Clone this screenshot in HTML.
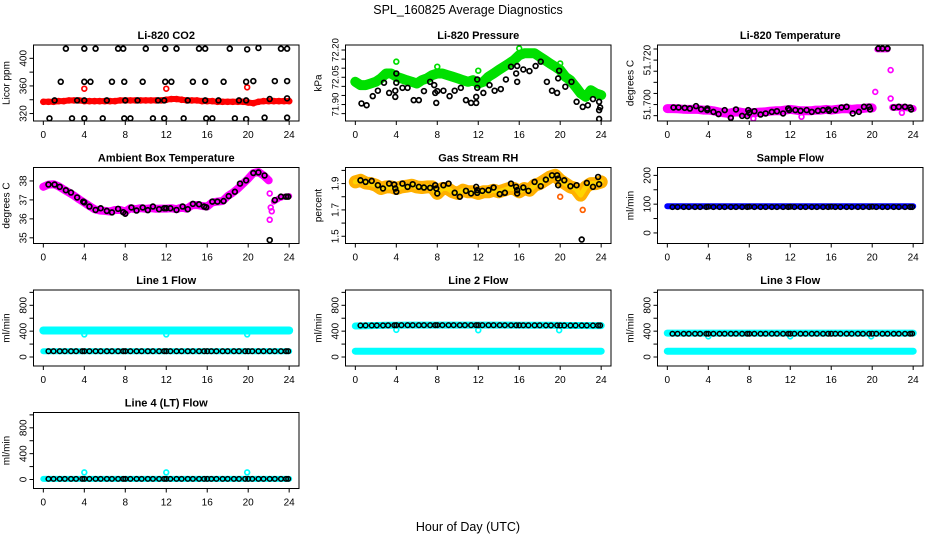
<!DOCTYPE html>
<html><head><meta charset="utf-8"><style>
html,body{margin:0;padding:0;background:#fff;}
svg{display:block;font-family:"Liberation Sans",sans-serif;}
</style></head><body>
<svg id="chart" width="936" height="540" viewBox="0 0 936 540" xmlns="http://www.w3.org/2000/svg">
<text x="468" y="14" text-anchor="middle" font-size="12.5">SPL_160825  Average Diagnostics</text>
<text x="468" y="531" text-anchor="middle" font-size="12.5">Hour of Day (UTC)</text>
</svg>
<script>
const xTicks=[0,4,8,12,16,20,24];
const tHalf=[0,0.5,1,1.5,2,2.5,3,3.5,4,4.5,5,5.5,6,6.5,7,7.5,8,8.5,9,9.5,10,10.5,11,11.5,12,12.5,13,13.5,14,14.5,15,15.5,16,16.5,17,17.5,18,18.5,19,19.5,20,20.5,21,21.5,22,22.5,23,23.5,24];
const tHour=[0,1,2,3,4,5,6,7,8,9,10,11,12,13,14,15,16,17,18,19,20,21,22,23,24];
const tBlk=[0.5,1.0,1.6,2.1,2.7,3.2,3.8,4.0,4.5,5.1,5.6,6.2,6.7,7.3,7.8,8.0,8.5,9.1,9.6,10.2,10.7,11.3,11.8,12.0,12.4,13.0,13.5,14.1,14.6,15.2,15.7,16.0,16.4,16.9,17.5,18.0,18.6,19.1,19.7,20.0,20.4,21.0,21.5,22.1,22.6,23.2,23.7,23.9];
const tSpikes=[4.0,12.0,19.9];

// CO2
const co2Band=[337,337,337,338,338,339,339,339,338,338,338,338,338,338,338,339,339,339,339,339,339,339,339,339,340,341,341,340,339,339,339,338,338,338,337,337,337,337,337,337,336,335,337,338,338,338,338,338,338];
const co2Spike=[356,356,358];
const co2BlkT=[2.2,4.0,5.1,7.3,7.8,10.0,11.9,13.0,15.2,15.8,18.2,19.9,21.0,23.2,23.8, 1.7,4.0,4.6,6.7,7.9,9.7,11.9,12.5,14.6,15.8,17.6,19.8,20.5,22.6,23.8, 0.6,2.8,4.0,5.8,7.9,8.5,10.7,11.8,13.7,15.9,16.5,18.7,19.8,21.6,23.8, 1.1,3.3,4.0,6.2,8.0,9.2,11.2,11.8,14.1,15.8,17.1,19.1,19.8,22.1,23.8];
const co2BlkV=[414,414,414,414,414,414,414,414,414,414,414,413,415,414,414, 366,366,366,366,366,366,366,366,366,366,366,366,367,367,367, 313,313,313,313,313,313,313,313,313,313,313,313,312,314,314, 339,339,339,339,339,339,339,339,339,339,339,339,339,341,342];

// Pressure
const presBand=[72.025,72.007,72.007,72.016,72.025,72.044,72.071,72.071,72.053,72.044,72.034,72.025,72.016,72.034,72.044,72.062,72.071,72.071,72.062,72.053,72.044,72.034,72.025,72.034,72.016,72.025,72.053,72.071,72.090,72.108,72.126,72.145,72.172,72.182,72.182,72.182,72.163,72.145,72.126,72.108,72.090,72.053,72.034,71.998,71.961,71.942,71.979,71.961,71.952];
const presSpike=[72.136,72.108,72.086,72.209,72.126];
const presSpikeT=[4.0,8.0,12.0,16.0,20.0];
const presBlkT=[0.6,1.1,1.7,2.2,2.8,3.3,3.9,3.9,4.0,4.0,4.6,5.1,5.7,6.2,6.7,7.3,7.7,7.8,7.9,8.0,8.6,9.2,9.7,10.3,10.8,11.3,11.8,11.8,11.9,11.9,12.5,13.1,13.6,14.2,14.7,15.2,15.7,15.8,15.8,16.4,17.0,17.6,18.1,18.7,19.2,19.7,19.8,19.9,20.5,21.1,21.6,22.2,22.7,23.2,23.8,23.8,23.9,23.8];
const presBlkV=[71.906,71.896,71.946,71.976,72.020,71.964,71.942,71.976,72.071,72.020,71.992,71.992,71.924,71.924,71.974,72.025,72.007,71.964,71.909,71.974,71.976,71.946,71.976,71.992,71.924,71.909,71.942,71.909,72.038,71.992,71.964,72.007,71.976,71.985,72.038,72.108,72.071,72.112,72.025,72.093,72.084,72.112,72.136,72.025,71.976,71.964,72.044,72.086,71.998,72.025,71.915,71.887,71.896,71.930,71.915,71.869,71.884,71.821];

// Li-820 temperature
const tempBand=[51.6982,51.6982,51.6981,51.6979,51.6978,51.6978,51.6978,51.6975,51.6975,51.6972,51.6967,51.6963,51.6960,51.6966,51.6967,51.6963,51.6963,51.6964,51.6966,51.6967,51.6970,51.6972,51.6972,51.6975,51.6978,51.6975,51.6972,51.6972,51.6972,51.6975,51.6975,51.6978,51.6975,51.6978,51.6981,51.6982,51.6978,51.6981,51.6982,51.6985,51.6985,51.7248,51.7248,51.7248,51.6987,51.6987,51.6987,51.6985,51.6982];
const tempOutT=[20.3,21.8,21.8,8.4,6.2,13.1,22.9];
const tempOutV=[51.7057,51.7155,51.7027,51.6937,51.6945,51.6945,51.6963];
const tempBlkT=[0.6,1.1,1.7,2.2,2.8,3.3,3.9,3.9,4.5,5.0,5.6,6.2,6.7,7.3,7.8,7.9,8.0,8.5,9.1,9.6,10.2,10.7,11.3,11.8,11.9,12.5,13.0,13.6,14.1,14.7,15.2,15.7,15.8,16.4,17.0,17.5,18.1,18.7,19.2,19.7,19.8,20.6,21.0,21.5,22.1,22.6,23.2,23.7,23.8];
const tempBlkV=[51.6987,51.6987,51.6985,51.6982,51.6993,51.6979,51.6975,51.6982,51.6967,51.6957,51.6975,51.6940,51.6978,51.6949,51.6948,51.6975,51.6963,51.6970,51.6955,51.6960,51.6967,51.6970,51.6960,51.6982,51.6975,51.6975,51.6972,51.6975,51.6967,51.6972,51.6975,51.6978,51.6972,51.6975,51.6987,51.6990,51.6960,51.6967,51.6990,51.6990,51.6978,51.7252,51.7252,51.7252,51.6987,51.6990,51.6990,51.6987,51.6978];

// Ambient box temperature
const ambBand=[37.69,37.81,37.83,37.72,37.55,37.39,37.22,37.03,36.86,36.68,36.51,36.44,36.42,36.39,36.47,36.47,36.39,36.56,36.51,36.56,36.53,36.56,36.53,36.54,36.54,36.56,36.51,36.60,36.53,36.72,36.73,36.68,36.65,36.87,36.91,36.94,37.20,37.38,37.60,37.86,38.12,38.42,38.47,38.29,38.03,36.91,37.08,37.17,37.20];
const ambOutT=[22.1,22.1,22.2,22.3];
const ambOutV=[37.34,35.95,36.60,36.40];
const ambBlkT=[0.5,1.1,1.6,2.2,2.7,3.3,3.9,4.0,4.5,5.1,5.6,6.2,6.7,7.3,7.8,8.0,8.6,9.1,9.7,10.2,10.7,11.3,11.8,12.0,12.4,13.0,13.6,14.1,14.6,15.2,15.7,15.9,16.5,17.0,17.6,18.1,18.7,19.2,19.8,20.5,21.0,21.6,22.1,22.6,23.2,23.7,23.9];
const ambBlkV=[37.81,37.81,37.69,37.51,37.39,37.13,36.91,36.87,36.65,36.47,36.56,36.42,36.34,36.53,36.35,36.27,36.60,36.44,36.60,36.46,36.65,36.51,36.56,36.56,36.56,36.47,36.65,36.51,36.79,36.77,36.65,36.61,36.91,36.91,36.94,37.20,37.43,37.86,38.03,38.42,38.45,38.29,34.88,36.99,37.17,37.17,37.17];

// Gas stream RH
const rhBand=[1.9125,1.925,1.905,1.9,1.8875,1.8625,1.875,1.875,1.8625,1.875,1.88,1.8875,1.875,1.87,1.875,1.875,1.825,1.8625,1.8625,1.8375,1.825,1.85,1.8375,1.8375,1.825,1.8375,1.8375,1.85,1.8375,1.85,1.8625,1.8625,1.8375,1.8625,1.85,1.8875,1.9,1.925,1.95,1.9625,1.925,1.9,1.875,1.8625,1.8125,1.875,1.9,1.9,1.9125];
const rhOutT=[22.2,20.0];
const rhOutV=[1.70,1.80];
const rhBlkT=[0.5,1.0,1.6,2.2,2.7,3.3,3.8,3.9,4.0,4.6,5.1,5.6,6.2,6.7,7.3,7.8,7.9,8.0,8.6,9.1,9.7,10.2,10.8,11.3,11.8,11.9,11.9,12.4,13.0,13.5,14.1,14.6,15.2,15.7,15.8,15.8,16.4,16.9,17.5,18.1,18.6,19.2,19.7,19.8,19.8,20.4,21.0,21.6,22.1,22.6,23.2,23.7,23.8];
const rhBlkV=[1.925,1.9125,1.92,1.8875,1.8625,1.9,1.8925,1.8625,1.8375,1.9,1.875,1.895,1.875,1.87,1.8675,1.8875,1.8625,1.825,1.8875,1.9,1.83,1.80,1.845,1.825,1.875,1.85,1.83,1.845,1.85,1.87,1.82,1.83,1.9,1.875,1.85,1.825,1.87,1.845,1.9125,1.88,1.93,1.9625,1.9625,1.9375,1.8875,1.925,1.88,1.8875,1.475,1.905,1.875,1.95,1.895];

// Sample flow
const sfBand=[93,93,93,93,93,93,93,93,93,93,93,93,93,93,93,93,93,93,93,93,93,93,93,93,93];
const sfBlk=[90,90,90,90,90,90,90,91,90,90,90,90,90,90,90,91,90,90,90,90,90,90,90,91,90,90,90,90,90,90,90,91,90,90,90,90,90,90,90,91,90,90,90,90,90,90,90,90];

// Line flows
const l1High=[410,410,410,410,410,410,410,410,410,410,410,410,410,410,410,410,410,410,410,410,410,410,410,410,410];
const l1Low=[88,88,88,88,88,88,88,88,88,88,88,88,88,88,88,88,88,88,88,88,88,88,88,88,88];
const l1Spike=[350,350,350];
const l1Blk=[90,90,90,90,90,90,90,90,90,90,90,90,90,90,90,90,90,90,90,90,90,90,90,90,90,90,90,90,90,90,90,90,90,90,90,90,90,90,90,90,90,90,90,90,90,90,90,90];
const l2High=[480,485,488,490,492,493,493,494,494,493,493,493,494,494,494,493,492,491,490,490,489,488,487,486,486];
const l2Low=[90,90,90,90,90,90,90,90,90,90,90,90,90,90,90,90,90,90,90,90,90,90,90,90,90];
const l2Spike=[420,415,415];
const l2Blk=[488,488,488,489,489,490,491,492,492,492,492,492,492,492,492,493,493,493,493,492,492,492,492,492,492,492,492,492,491,491,491,491,491,490,490,490,489,489,489,488,488,488,488,488,488,488,488,488];
const l3High=[370,370,370,370,370,370,370,370,370,370,370,370,370,370,370,370,370,370,370,370,370,370,370,370,370];
const l3Low=[90,90,90,90,90,90,90,90,90,90,90,90,90,90,90,90,90,90,90,90,90,90,90,90,90];
const l3Spike=[320,320,320];
const l3Blk=[360,360,360,360,360,360,360,360,360,360,360,360,360,360,360,360,360,360,360,360,360,360,360,360,360,360,360,360,360,360,360,360,360,360,360,360,360,360,360,360,360,360,360,360,360,360,360,362];
const l4Band=[10,10,10,10,10,10,10,10,10,10,10,10,10,10,10,10,10,10,10,10,10,10,10,10,10];
const l4Spike=[110,110,110];
const l4Blk=[10,10,10,10,10,10,10,10,10,10,10,10,10,10,10,10,10,10,10,10,10,10,10,10,10,10,10,10,10,10,10,10,10,10,10,10,10,10,10,10,10,10,10,10,10,10,10,10];

const NS="http://www.w3.org/2000/svg";
const svg=document.getElementById('chart');
function el(parent,tag,attrs,txt){const e=document.createElementNS(NS,tag);for(const k in attrs)e.setAttribute(k,attrs[k]);if(txt!==undefined)e.textContent=txt;parent.appendChild(e);return e;}

function makePanel(c,r,y0,y1,name,title,ylab,yTicks,yLabels,lfs){
  const L=33.5+312*c,R=299+312*c,T=45+122.5*r,B=T+76;
  const g=el(svg,'g',{});
  
  
  const p={g,L,R,T,B,
    x:t=>L+(t+0.96)/25.92*(R-L),
    y:v=>B-(v-y0)/(y1-y0)*(B-T)};
  const clip=el(g,'clipPath',{id:'clip-'+name});
  el(clip,'rect',{x:L,y:T,width:R-L,height:B-T});
  p.plot=el(g,'g',{'clip-path':'url(#clip-'+name+')'});
  
  
  const fr=el(g,'rect',{x:L,y:T,width:R-L,height:B-T,fill:'none',stroke:'#000','stroke-width':1});
  
  
  const tt=el(g,'text',{x:(L+R)/2,y:T-6,'text-anchor':'middle','font-size':11,'font-weight':'bold'},title);
  
  
  const yl=el(g,'text',{x:0,y:0,'text-anchor':'middle','font-size':10,transform:'translate('+(L-24)+','+((T+B)/2)+') rotate(-90)'},ylab);
  
  
  xTicks.forEach(t=>{
    const X=p.x(t);
    el(g,'line',{x1:X,x2:X,y1:B,y2:B+4,stroke:'#000'});
    const lb=el(g,'text',{x:X,y:B+17,'text-anchor':'middle','font-size':10},String(t));
    
    
  });
  yTicks.forEach(v=>{const Y=p.y(v);el(g,'line',{x1:L-4,x2:L,y1:Y,y2:Y,stroke:'#000'});});
  yLabels.forEach(v=>{
    const Y=p.y(Number(v));
    const lb=el(g,'text',{x:0,y:0,'text-anchor':'middle','font-size':lfs||10,transform:'translate('+(L-7)+','+Y+') rotate(-90)'},String(v));
    
    
  });
  return p;
}
function band(p,ts,vs,color,w,name){
  const pts=ts.map((t,i)=>p.x(t).toFixed(1)+','+p.y(vs[i]).toFixed(1)).join(' ');
  const pl=el(p.plot,'polyline',{points:pts,fill:'none',stroke:color,'stroke-width':w,'stroke-linejoin':'round','stroke-linecap':'round'});
  
  
}
function pts(p,ts,vs,color,name,rad,sw){
  const g=el(p.plot,'g',{});
  
  
  ts.forEach((t,i)=>{
    const c=el(g,'circle',{cx:p.x(t),cy:p.y(vs[i]),r:rad||2.4,fill:'none',stroke:color,'stroke-width':sw||1.7});
    
    
  });
}

// Panel 1 CO2
let p=makePanel(0,0,309.2,419.3,'co2','Li-820 CO2','Licor ppm',[320,340,360,380,400],[320,360,400]);
band(p,tHalf,co2Band,'#ff0000',6,'co2-band');
pts(p,tHalf,co2Band,'#ff0000','co2-band-points',2.6,1.5);
pts(p,tSpikes,co2Spike,'#ff0000','co2-red-outliers');
pts(p,co2BlkT,co2BlkV,'#000','co2-black-points');

// Panel 2 Pressure
p=makePanel(1,0,71.8094,72.2276,'pressure','Li-820 Pressure','kPa',[71.85,71.90,71.95,72.00,72.05,72.10,72.15,72.20],['71.90','72.05','72.20'],9.5);
band(p,tHalf,presBand,'#00e000',10,'pressure-band');
pts(p,presSpikeT,presSpike,'#00dd00','pressure-green-outliers');
pts(p,presBlkT,presBlkV,'#000','pressure-black-points');

// Panel 3 Li-820 temperature
p=makePanel(2,0,51.6926,51.7268,'li820-temp','Li-820 Temperature','degrees C',[51.695,51.700,51.705,51.710,51.715,51.720,51.725],['51.700','51.720']);
band(p,tHalf.slice(0,41),tempBand.slice(0,41),'#ff00ff',9,'li820-temp-band-a');
band(p,tHalf.slice(41,44),tempBand.slice(41,44),'#ff00ff',6,'li820-temp-band-b');
band(p,tHalf.slice(44),tempBand.slice(44),'#ff00ff',7,'li820-temp-band-c');
pts(p,tempOutT,tempOutV,'#ff00ff','li820-temp-magenta-outliers');
pts(p,tempBlkT,tempBlkV,'#000','li820-temp-black-points');

// Panel 4 Ambient
p=makePanel(0,1,34.70,38.71,'ambient','Ambient Box Temperature','degrees C',[35,36,37,38],[35,36,37,38]);
band(p,tHalf.slice(0,45),ambBand.slice(0,45),'#ff00ff',8,'ambient-band-a');
band(p,tHalf.slice(45),ambBand.slice(45),'#ff00ff',6,'ambient-band-b');
pts(p,ambOutT,ambOutV,'#ff00ff','ambient-magenta-outliers');
pts(p,ambBlkT,ambBlkV,'#000','ambient-black-points');

// Panel 5 RH
p=makePanel(1,1,1.445,2.022,'rh','Gas Stream RH','percent',[1.5,1.6,1.7,1.8,1.9,2.0],['1.5','1.7','1.9']);
band(p,tHalf,rhBand,'#ffb000',13,'rh-band');
band(p,tHalf,rhBand,'#ffd400',5,'rh-band-core');
pts(p,rhOutT,rhOutV,'#ff6000','rh-orange-outliers');
pts(p,rhBlkT,rhBlkV,'#000','rh-black-points');

// Panel 6 Sample flow
p=makePanel(2,1,-36.7,227.4,'sample-flow','Sample Flow','ml/min',[0,50,100,150,200],[0,100,200]);
band(p,tHour,sfBand,'#0000ff',6,'sample-flow-band');
pts(p,tBlk,sfBlk,'#000','sample-flow-black-points',2.3,1.5);

// Line flows
const fT=[0,200,400,600,800,1000], fL=[0,400,800];
p=makePanel(0,2,-139,1036.7,'line1','Line 1 Flow','ml/min',fT,fL);
band(p,tHour,l1High,'#00ffff',8,'line1-high-band');
band(p,tHour,l1Low,'#00ffff',6,'line1-low-band');
pts(p,tSpikes,l1Spike,'#00ffff','line1-cyan-outliers');
pts(p,tBlk,l1Blk,'#000','line1-black-points',2.3,1.5);

p=makePanel(1,2,-139,1036.7,'line2','Line 2 Flow','ml/min',fT,fL);
band(p,tHour,l2High,'#00ffff',7,'line2-high-band');
band(p,tHour,l2Low,'#00ffff',7,'line2-low-band');
pts(p,tSpikes,l2Spike,'#00ffff','line2-cyan-outliers');
pts(p,tBlk,l2Blk,'#000','line2-black-points',2.3,1.5);

p=makePanel(2,2,-139,1036.7,'line3','Line 3 Flow','ml/min',fT,fL);
band(p,tHour,l3High,'#00ffff',7,'line3-high-band');
band(p,tHour,l3Low,'#00ffff',7,'line3-low-band');
pts(p,tSpikes,l3Spike,'#00ffff','line3-cyan-outliers');
pts(p,tBlk,l3Blk,'#000','line3-black-points',2.3,1.5);

p=makePanel(0,3,-139,1036.7,'line4','Line 4 (LT) Flow','ml/min',fT,fL);
band(p,tHour,l4Band,'#00ffff',6,'line4-band');
pts(p,tSpikes,l4Spike,'#00ffff','line4-cyan-outliers');
pts(p,tBlk,l4Blk,'#000','line4-black-points',2.3,1.5);
</script>
</body></html>
